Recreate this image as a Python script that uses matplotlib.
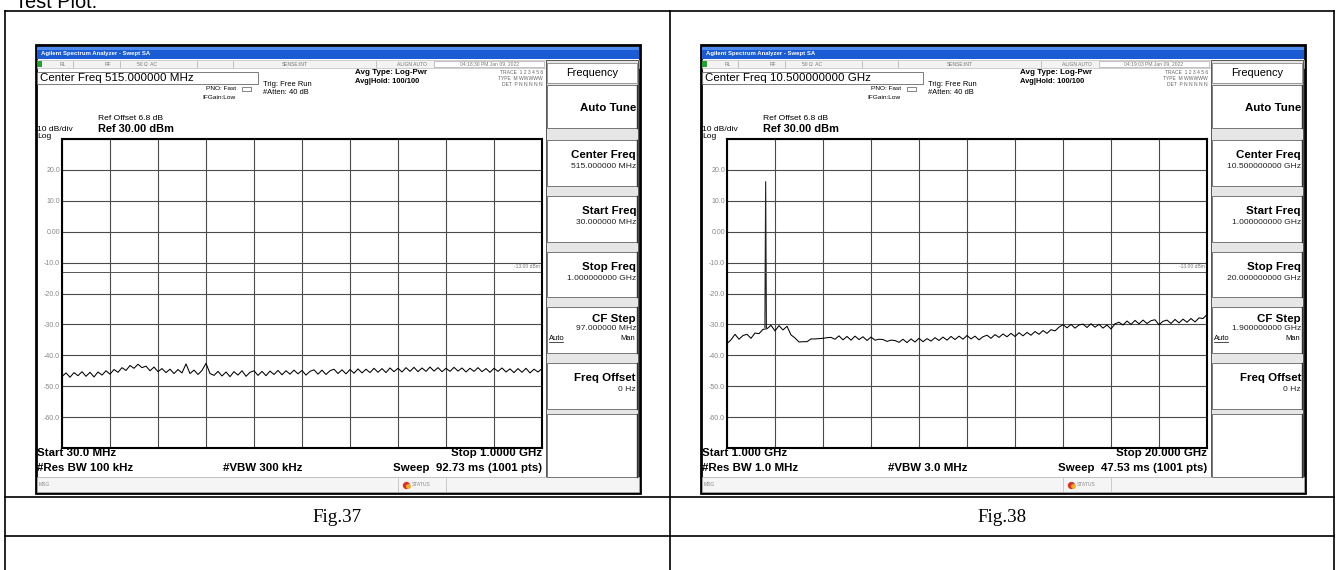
import numpy as np
import matplotlib
matplotlib.use('Agg')
import matplotlib.pyplot as plt
from matplotlib.patches import Rectangle

# figure size in pixels (dpi 100)
W, H, DPI = 1338, 570, 100

# ---- data ----
ref_level = 30.0      # dBm, top graticule line
db_per_div = 10.0
limit_dbm = -13.0

# Fig.37 : 30 MHz .. 1 GHz, levels in dBm (121 readings across the sweep)
start37, stop37 = 30.0, 1000.0
trace37 = [
    -46.9, -45.7, -47.1, -45.6, -46.6, -45.3, -46.8, -45.5, -47.0, -45.4,
    -46.4, -45.0, -46.1, -44.6, -45.5, -44.0, -44.9, -43.3, -44.2, -42.9,
    -44.0, -43.5, -45.0, -43.8, -45.3, -44.3, -45.6, -44.5, -45.9, -44.6,
    -45.7, -42.8, -45.9, -44.8, -46.2, -44.9, -42.6, -45.9, -46.5, -45.2,
    -46.7, -45.4, -46.9, -45.3, -46.4, -45.0, -46.8, -45.5, -45.0, -46.5,
    -45.2, -46.6, -45.1, -46.2, -44.9, -46.3, -45.0, -46.1, -44.8, -46.0,
    -44.9, -46.4, -45.2, -44.7, -46.1, -44.8, -46.2, -45.0, -44.5, -45.9,
    -44.7, -46.0, -44.6, -45.8, -44.4, -45.7, -44.5, -45.6, -44.2, -45.5,
    -44.3, -45.6, -44.1, -45.3, -44.2, -45.4, -44.0, -45.2, -43.9, -45.3,
    -44.1, -45.2, -43.8, -45.1, -44.0, -45.3, -44.2, -45.2, -43.9, -45.1,
    -44.1, -45.4, -44.2, -45.2, -44.0, -45.3, -44.3, -45.5, -44.2, -45.2,
    -44.1, -45.4, -44.4, -45.6, -44.3, -45.5, -44.2, -45.7, -44.5, -45.4, -44.3]

# Fig.38 : 1 GHz .. 20 GHz
start38, stop38 = 1.0, 20.0
trace38 = [
    -36.2, -35.0, -33.2, -34.8, -33.6, -33.2, -34.5, -32.8, -33.0, -31.6,
    -31.4, -30.3, -32.1, -30.4, -31.8, -30.6, -33.4, -34.4, -35.7, -35.6,
    -35.6, -34.7, -34.7, -34.6, -34.5, -34.3, -34.2, -34.8, -33.7, -35.0,
    -33.9, -35.1, -33.8, -34.9, -34.0, -35.2, -34.1, -35.1, -34.8, -34.9,
    -35.5, -35.1, -35.2, -35.8, -34.8, -35.9, -34.7, -35.7, -34.5, -35.6,
    -34.6, -35.4, -34.3, -35.2, -34.1, -35.1, -33.9, -34.9, -33.8, -34.8,
    -33.6, -34.7, -33.8, -35.0, -34.0, -33.5, -34.5, -33.3, -34.2, -33.1,
    -34.0, -32.9, -33.9, -32.7, -33.7, -32.6, -33.5, -32.3, -33.2, -32.0,
    -32.9, -31.7, -32.1, -30.9, -30.1, -31.1, -30.0, -31.2, -30.2, -29.9,
    -31.0, -29.8, -30.9, -30.0, -31.2, -30.2, -31.5, -29.8, -29.3, -30.2,
    -28.9, -30.0, -28.7, -29.8, -28.6, -29.7, -28.8, -28.5, -30.1, -29.0,
    -28.6, -29.7, -28.4, -29.5, -28.3, -29.3, -28.1, -29.2, -27.9, -28.1, -26.8]
# carrier seen near 2.5 GHz
spike38_freq = [2.50, 2.53, 2.56]
spike38_level = [-31.0, 16.2, -31.0]

ytick_labels = ['', '20.0', '10.0', '0.00', '-10.0', '-20.0', '-30.0',
                '-40.0', '-50.0', '-60.0', '']

center37 = 'Center Freq 515.000000 MHz'
center38 = 'Center Freq 10.500000000 GHz'
panel37 = [('Center Freq', '515.000000 MHz'), ('Start Freq', '30.000000 MHz'),
           ('Stop Freq', '1.000000000 GHz'), ('CF Step', '97.000000 MHz'),
           ('Freq Offset', '0 Hz')]
panel38 = [('Center Freq', '10.500000000 GHz'), ('Start Freq', '1.000000000 GHz'),
           ('Stop Freq', '20.000000000 GHz'), ('CF Step', '1.900000000 GHz'),
           ('Freq Offset', '0 Hz')]
bottom37 = ['Start 30.0 MHz', 'Stop 1.0000 GHz', '#Res BW 100 kHz',
            '#VBW 300 kHz', 'Sweep  92.73 ms (1001 pts)']
bottom38 = ['Start 1.000 GHz', 'Stop 20.000 GHz', '#Res BW 1.0 MHz',
            '#VBW 3.0 MHz', 'Sweep  47.53 ms (1001 pts)']
clock37 = '04:18:30 PM Jan 09, 2022'
clock38 = '04:19:03 PM Jan 09, 2022'
captions = ['Fig.37', 'Fig.38']

plt.rcParams['font.family'] = ['Liberation Sans', 'DejaVu Sans']


def pt(px):
    '''pixel height -> font points'''
    return px * 72.0 / DPI


def draw_screen(bg, dx, center_txt, panel, bottom, clock):
    '''analyzer window chrome, pixel coords, dx = horizontal shift'''
    x0, x1 = 36 + dx, 640 + dx
    gx1 = 542 + dx
    bg.add_patch(Rectangle((x0, 45), x1 - x0, 448, fc='white', ec='black', lw=2.0, zorder=1))
    # title bar
    bg.add_patch(Rectangle((x0 + 1, 47), x1 - x0 - 2, 12, fc='#1b5bd4', ec='none', zorder=2))
    bg.add_patch(Rectangle((x0 + 1, 47), x1 - x0 - 2, 3, fc='#4d8bf0', ec='none', zorder=2))
    bg.text(x0 + 5, 53, 'Agilent Spectrum Analyzer - Swept SA', color='white',
            fontsize=pt(6), va='center', weight='bold', zorder=3)
    # status row
    bg.add_patch(Rectangle((x0 + 1, 60), x1 - x0 - 2, 7.5, fc='#f3f3f3', ec='#b0b0b0', lw=0.4, zorder=2))
    bg.add_patch(Rectangle((x0 + 1, 60.5), 5, 6.5, fc='#22a22e', ec='none', zorder=3))
    for txt, xx in [('RL', 60), ('RF', 105), ('50 Ω  AC', 137), ('SENSE:INT', 282),
                    ('ALIGN AUTO', 397)]:
        bg.text(xx + dx, 64, txt, fontsize=pt(5), color='#777', va='center', zorder=3)
    for xx in [73, 120, 197, 233, 376]:
        bg.plot([xx + dx, xx + dx], [61, 67], color='#999', lw=0.4, zorder=3)
    bg.add_patch(Rectangle((434 + dx, 61), 110, 5.8, fc='white', ec='#999', lw=0.4, zorder=3))
    bg.text(489 + dx, 64, clock, fontsize=pt(5), color='#777', ha='center', va='center', zorder=4)
    # header
    bg.add_patch(Rectangle((37 + dx, 72), 221, 12, fc='white', ec='#666', lw=0.6, zorder=2))
    bg.text(40 + dx, 78, center_txt, fontsize=pt(11.5), va='center', zorder=3)
    bg.text(236 + dx, 89, 'PNO: Fast', fontsize=pt(6.5), ha='right', va='center', zorder=3)
    bg.text(236 + dx, 97.5, 'IFGain:Low', fontsize=pt(6.5), ha='right', va='center', zorder=3)
    bg.add_patch(Rectangle((242 + dx, 87), 9, 4, fc='white', ec='#555', lw=0.5, zorder=3))
    bg.text(263 + dx, 85, 'Trig: Free Run', fontsize=pt(7.5), va='center', zorder=3)
    bg.text(263 + dx, 93, '#Atten: 40 dB', fontsize=pt(7.5), va='center', zorder=3)
    bg.text(355 + dx, 73, 'Avg Type: Log-Pwr', fontsize=pt(8), va='center', weight='bold', zorder=3)
    bg.text(355 + dx, 81.5, 'Avg|Hold: 100/100', fontsize=pt(7.5), va='center', weight='bold', zorder=3)
    for yy, txt in [(73, 'TRACE  1 2 3 4 5 6'), (79, 'TYPE  M WWWWW'), (85, 'DET  P N N N N N')]:
        bg.text(543 + dx, yy, txt, fontsize=pt(5), color='#666', ha='right', va='center', zorder=3)
    bg.text(98 + dx, 119, 'Ref Offset 6.8 dB', fontsize=pt(8.5), va='center', zorder=3)
    bg.text(98 + dx, 129, 'Ref 30.00 dBm', fontsize=pt(11), va='center', weight='bold', zorder=3)
    bg.text(37 + dx, 129.5, '10 dB/div', fontsize=pt(8.5), va='center', zorder=3)
    bg.text(37 + dx, 136, 'Log', fontsize=pt(8.5), va='center', zorder=3)
    # soft key panel
    px0, px1 = 546 + dx, 638 + dx
    bg.add_patch(Rectangle((px0, 60), px1 - px0, 417, fc='#e6e6e6', ec='#555', lw=0.7, zorder=2))
    bg.add_patch(Rectangle((px0 + 1, 63), px1 - px0 - 2, 20, fc='white', ec='#888', lw=0.6, zorder=3))
    bg.text((px0 + px1) / 2, 73, 'Frequency', fontsize=pt(11), ha='center', va='center', zorder=4)
    keys = [(85, 128), (140, 186), (196, 242), (252, 297), (307, 353), (363, 409), (414, 477)]
    for k, (top, bot) in enumerate(keys):
        bg.add_patch(Rectangle((px0 + 1, top), px1 - px0 - 2, bot - top, fc='white',
                               ec='#777', lw=0.7, zorder=3))
        bg.plot([px1 - 1.5, px1 - 1.5], [top, bot], color='#333', lw=1.0, zorder=4)
        if k == 0:
            bg.text(px1 - 2, 108, 'Auto Tune', fontsize=pt(11.5), weight='bold',
                    ha='right', va='center', zorder=4)
        elif k <= len(panel):
            name, val = panel[k - 1]
            if name == 'CF Step':
                ty, vy = top + 12, top + 21.5
                bg.text(px0 + 3, top + 31, 'Auto', fontsize=pt(7.5), va='center', zorder=4)
                bg.plot([px0 + 3, px0 + 17], [top + 35, top + 35], color='black', lw=0.5, zorder=4)
                bg.text(px1 - 3, top + 31, 'Man', fontsize=pt(7.5), ha='right', va='center', zorder=4)
            else:
                ty, vy = top + 15, top + 26.5
            bg.text(px1 - 2, ty, name, fontsize=pt(11.5), weight='bold', ha='right', va='center', zorder=4)
            bg.text(px1 - 2, vy, val, fontsize=pt(8.5), color='#222', ha='right', va='center', zorder=4)
    # bottom annotation
    bg.text(37 + dx, 453, bottom[0], fontsize=pt(11.5), weight='bold', va='center', zorder=3)
    bg.text(gx1, 453, bottom[1], fontsize=pt(11.5), weight='bold', ha='right', va='center', zorder=3)
    bg.text(37 + dx, 468, bottom[2], fontsize=pt(11.5), weight='bold', va='center', zorder=3)
    bg.text(223 + dx, 468, bottom[3], fontsize=pt(11.5), weight='bold', va='center', zorder=3)
    bg.text(gx1, 468, bottom[4], fontsize=pt(11.5), weight='bold', ha='right', va='center', zorder=3)
    # message / status line
    bg.add_patch(Rectangle((x0 + 1, 477), x1 - x0 - 2, 15, fc='#f5f5f5', ec='#aaa', lw=0.5, zorder=2))
    bg.text(x0 + 3, 484.5, 'MSG', fontsize=pt(5), color='#888', va='center', zorder=3)
    bg.plot([398 + dx, 398 + dx], [478, 491], color='#bbb', lw=0.5, zorder=3)
    bg.plot([446 + dx, 446 + dx], [478, 491], color='#bbb', lw=0.5, zorder=3)
    bg.scatter([406 + dx], [484.5], s=18, color='#d8322a', zorder=4)
    bg.scatter([408 + dx], [486], s=6, color='#f0b020', zorder=5)
    bg.text(412 + dx, 484.5, 'STATUS', fontsize=pt(5), color='#888', va='center', zorder=4)


def draw_trace(fig, dx, start, stop, levels, spike_f=None, spike_l=None):
    '''graticule + trace in data units'''
    ax = fig.add_axes([(62 + dx) / W, 1 - 448 / H, 480 / W, 309 / H])
    freqs = np.linspace(start, stop, len(levels))
    ax.plot(freqs, levels, color='black', lw=0.75)
    if spike_f is not None:
        ax.plot(spike_f, spike_l, color='#222', lw=0.8)
    ax.set_xlim(start, stop)
    ax.set_ylim(ref_level - 10 * db_per_div, ref_level)
    ax.set_xticks(np.linspace(start, stop, 11))
    ax.set_xticklabels([])
    ax.set_yticks(np.arange(ref_level, ref_level - 10 * db_per_div - 1, -db_per_div))
    ax.set_yticklabels(ytick_labels)
    ax.tick_params(length=0, pad=1.5, labelsize=pt(7), labelcolor='#888')
    ax.grid(color='#4a4a4a', lw=0.8)
    for s in ax.spines.values():
        s.set_linewidth(1.5)
    ax.axhline(limit_dbm, color='#555', lw=0.7)
    ax.text(0.995, limit_dbm + 0.8, '-13.00 dBm', transform=ax.get_yaxis_transform(),
            fontsize=pt(5), color='#777', ha='right', va='bottom')
    return ax


fig = plt.figure(figsize=(W / DPI, H / DPI), dpi=DPI)
bg = fig.add_axes([0, 0, 1, 1])
bg.set_xlim(0, W)
bg.set_ylim(H, 0)
bg.axis('off')

# document text + table
bg.text(15, 8.5, 'Test Plot:', fontsize=pt(20), va='baseline')
for xx in [5, 670, 1334]:
    bg.plot([xx, xx], [11, H], color='black', lw=1.2)
for yy in [11, 497, 536]:
    bg.plot([5, 1334], [yy, yy], color='black', lw=1.2)
for k, cap in enumerate(captions):
    bg.text(337.5 + 664.5 * k, 517, cap, fontsize=pt(19), ha='center', va='center',
            family=['Liberation Serif', 'DejaVu Serif'])

draw_screen(bg, 0, center37, panel37, bottom37, clock37)
draw_screen(bg, 665, center38, panel38, bottom38, clock38)
draw_trace(fig, 0, start37, stop37, trace37)
draw_trace(fig, 665, start38, stop38, trace38, spike38_freq, spike38_level)

fig.savefig('out.png', dpi=DPI)
